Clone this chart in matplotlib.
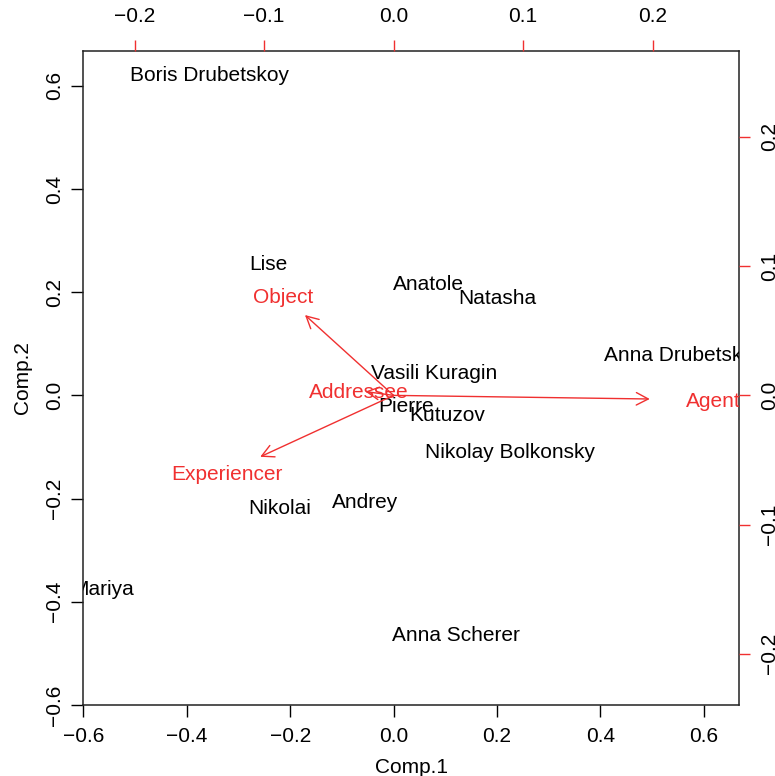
import matplotlib
matplotlib.use('Agg')
import matplotlib.pyplot as plt
from matplotlib.patches import FancyArrowPatch

plt.rcParams['font.family'] = ['Liberation Sans', 'DejaVu Sans']

# Scores (observations)
names = ['Boris Drubetskoy', 'Lise', 'Anatole', 'Natasha', 'Vasili Kuragin',
         'Pierre', 'Kutuzov', 'Nikolay Bolkonsky', 'Nikolai', 'Andrey',
         'Anna Scherer', 'Mariya', 'Anna Drubetskoy']
comp1 = [-0.356, -0.242, 0.068, 0.200, 0.078, 0.025, 0.104, 0.225,
         -0.220, -0.056, 0.121, -0.562, 0.562]
comp2 = [0.623, 0.257, 0.219, 0.192, 0.046, -0.018, -0.035, -0.107,
         -0.216, -0.203, -0.461, -0.373, 0.082]

# Loadings (variables)
variables = ['Agent', 'Object', 'Addressee', 'Experiencer']
load1 = [0.2473, -0.0855, -0.0272, -0.1287]
load2 = [-0.0035, 0.0777, 0.0037, -0.0594]

main_ticks = [-0.6, -0.4, -0.2, 0.0, 0.2, 0.4, 0.6]
sec_ticks = [-0.2, -0.1, 0.0, 0.1, 0.2]
main_lim = (-0.6, 0.668)
ratio = 0.3993
sec_lim = (main_lim[0] * ratio, main_lim[1] * ratio)

RED = '#f03030'
FS = 15


def fmt(t):
    return f'{t:.1f}'.replace('-', '\u2212')


fig = plt.figure(figsize=(7.75, 7.76), dpi=100)
pos = [0.1075, 0.0915, 0.846, 0.8432]
ax = fig.add_axes(pos)
ax.set_xlim(*main_lim)
ax.set_ylim(*main_lim)
ax.set_xticks(main_ticks)
ax.set_yticks(main_ticks)
ax.set_xticklabels([fmt(t) for t in main_ticks])
ax.set_yticklabels([fmt(t) for t in main_ticks])
ax.tick_params(direction='out', length=8.6, width=1, pad=7, labelsize=FS,
               colors='black')
ax.tick_params(axis='y', labelrotation=90, pad=5)
for s in ax.spines.values():
    s.set_linewidth(1.1)
    s.set_color('#222222')
ax.set_xlabel('Comp.1', fontsize=FS, labelpad=9)
ax.set_ylabel('Comp.2', fontsize=FS, labelpad=10)

for n, x, y in zip(names, comp1, comp2):
    ax.annotate(n, (x, y), xytext=(0, -1.5), textcoords='offset points',
                fontsize=FS, ha='center', va='center', color='black',
                annotation_clip=False, clip_on=True)

ax2 = fig.add_axes(pos, frameon=False)
ax2.set_xlim(*sec_lim)
ax2.set_ylim(*sec_lim)
ax2.xaxis.tick_top()
ax2.yaxis.tick_right()
ax2.set_xticks(sec_ticks)
ax2.set_yticks(sec_ticks)
ax2.set_xticklabels([fmt(t) for t in sec_ticks])
ax2.set_yticklabels([fmt(t) for t in sec_ticks])
ax2.tick_params(direction='out', length=8.0, width=1, pad=9.5, labelsize=FS,
                color=RED, labelcolor='black')
ax2.tick_params(axis='y', labelrotation=90, pad=7)

for v, lx, ly in zip(variables, load1, load2):
    arr = FancyArrowPatch((0, 0), (0.8 * lx, 0.8 * ly),
                          arrowstyle='->,head_length=0.86,head_width=0.45',
                          mutation_scale=10, color=RED, lw=1.0,
                          shrinkA=0, shrinkB=0, clip_on=True)
    ax2.add_patch(arr)
    ax2.annotate(v, (lx, ly), xytext=(0, -1.5), textcoords='offset points',
                 fontsize=FS, ha='center', va='center', color=RED,
                 annotation_clip=False, clip_on=True)

plt.setp(ax.get_yticklabels(), va='center')
plt.setp(ax2.get_yticklabels(), va='center')

fig.savefig('out.png', dpi=100)
